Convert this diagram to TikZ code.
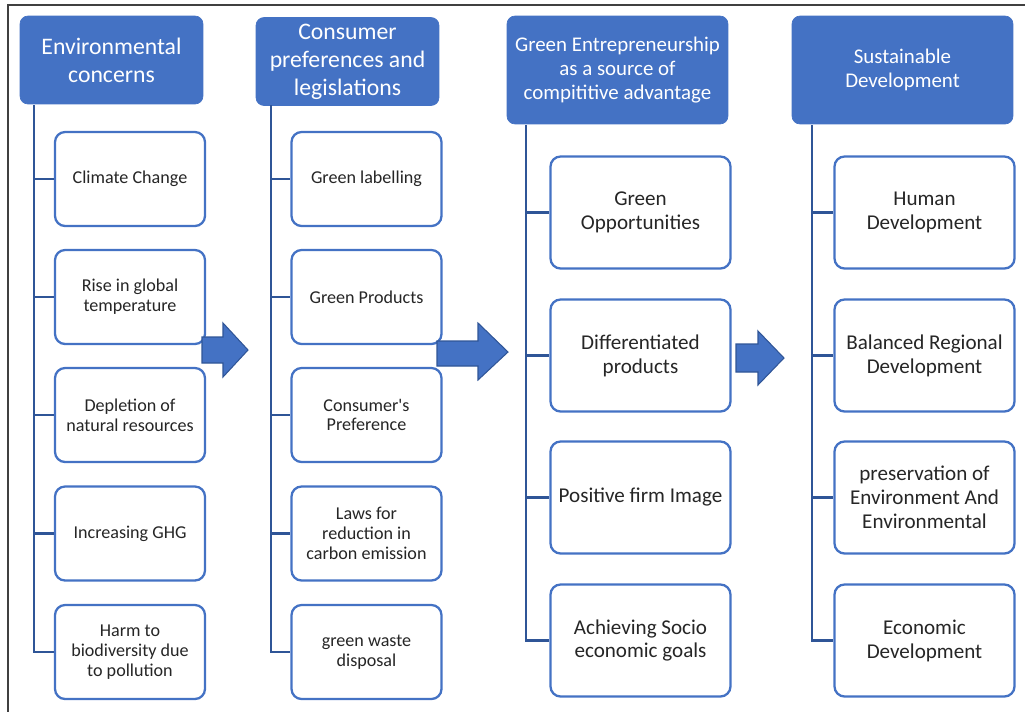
\documentclass[tikz,border=0pt]{standalone}
\usepackage{fontspec}
\setmainfont{Carlito}
\definecolor{hdblue}{HTML}{4472C4}
\definecolor{lnblue}{HTML}{2F5597}
\definecolor{txgray}{HTML}{262626}

\begin{document}
\begin{tikzpicture}[x=0.02cm,y=-0.02cm,
  frame/.style={draw=black!75,line width=1.1pt},
  hd/.style={draw=hdblue,fill=hdblue,rounded corners=0.16cm,text=white,align=center,inner sep=0pt},
  hdA/.style={hd,minimum width=3.66cm,minimum height=1.76cm,font=\fontsize{13.5}{15.9}\selectfont},
  hdB/.style={hd,minimum width=4.42cm,minimum height=2.16cm,font=\fontsize{11.9}{13.4}\selectfont},
  bx/.style={draw=hdblue,line width=1.3pt,fill=white,rounded corners=0.2cm,text=txgray,align=center,inner sep=0pt},
  bxA/.style={bx,minimum width=3.0cm,minimum height=1.88cm,font=\fontsize{10.3}{11.2}\selectfont},
  bxB/.style={bx,minimum width=3.6cm,minimum height=2.24cm,font=\fontsize{12}{13.6}\selectfont},
  link/.style={draw=lnblue,line width=1.6pt},
  barrow/.style={fill=hdblue,draw=lnblue,line width=0.6pt,line join=miter}]
\useasboundingbox (0,0) rectangle (1025,711);
\draw[frame] (8,720) -- (8,5) -- (1035,5);

  \node[hdA] (he) at (111.5,60) {Environmental\\concerns};
  \node[hdA] (hc) at (347.5,61.5) {Consumer\\preferences and\\legislations};
  \node[hdB] (hg) at (617.5,70) {Green Entrepreneurship\\as a source of\\compititive advantage};
  \node[hdB] (hs) at (902.5,70) {Sustainable\\Development};

  \coordinate (te) at (34,105);
  \coordinate (tc) at (271,105);
  \coordinate (tg) at (526,125);
  \coordinate (ts) at (812,125);

 \node[bxA] (e1) at (130,179) {Climate Change};
 \node[bxA] (e2) at (130,297) {Rise in global\\temperature};
 \node[bxA] (e3) at (130,415) {Depletion of\\natural resources};
 \node[bxA] (e4) at (130,533.5) {Increasing GHG};
 \node[bxA] (e5) at (130,652) {Harm to\\biodiversity due\\to pollution};

 \node[bxA] (c1) at (366.5,179) {Green labelling};
 \node[bxA] (c2) at (366.5,297) {Green Products};
 \node[bxA] (c3) at (366.5,415) {Consumer\textquotesingle s\\Preference};
 \node[bxA] (c4) at (366.5,533.5) {Laws for\\reduction in\\carbon emission};
 \node[bxA] (c5) at (366.5,652) {green waste\\disposal};

  \node[bxB] (g1) at (640.5,212.5) {Green\\Opportunities};
  \node[bxB] (g2) at (640.5,355.5) {Differentiated\\products};
  \node[bxB] (g3) at (640.5,497.5) {Positive firm Image};
  \node[bxB] (g4) at (640.5,640.5) {Achieving Socio\\economic goals};

  \node[bxB] (s1) at (924.5,212.5) {Human\\Development};
  \node[bxB] (s2) at (924.5,355.5) {Balanced Regional\\Development};
  \node[bxB] (s3) at (924.5,497.5) {preservation of\\Environment And\\Environmental};
  \node[bxB] (s4) at (924.5,640.5) {Economic\\Development};

 \draw[link] (te) |- (e5.west) (te |- e1.west) -- (e1.west) (te |- e2.west) -- (e2.west)
   (te |- e3.west) -- (e3.west) (te |- e4.west) -- (e4.west);
 \draw[link] (tc) |- (c5.west) (tc |- c1.west) -- (c1.west) (tc |- c2.west) -- (c2.west)
   (tc |- c3.west) -- (c3.west) (tc |- c4.west) -- (c4.west);
 \draw[link] (tg) |- (g4.west) (tg |- g1.west) -- (g1.west) (tg |- g2.west) -- (g2.west)
   (tg |- g3.west) -- (g3.west);
 \draw[link] (ts) |- (s4.west) (ts |- s1.west) -- (s1.west) (ts |- s2.west) -- (s2.west)
   (ts |- s3.west) -- (s3.west);

 \draw[barrow] (202,337) -- (223,337) -- (223,323) -- (248,350) -- (223,377) -- (223,363) -- (202,363) -- cycle;
 \draw[barrow] (437,341) -- (478,341) -- (478,323) -- (508,352) -- (478,380) -- (478,366) -- (437,366) -- cycle;
 \draw[barrow] (736,344) -- (758,344) -- (758,331) -- (784,358) -- (758,385) -- (758,372) -- (736,372) -- cycle;

\end{tikzpicture}
\end{document}
